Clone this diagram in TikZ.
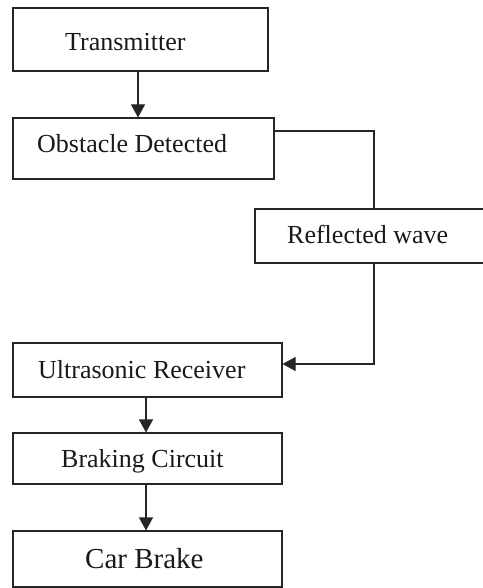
\documentclass[tikz,border=0pt]{standalone}
\usepackage{fontspec}
\setmainfont{Liberation Serif}
\usetikzlibrary{arrows.meta}
\tikzset{
  box/.style={draw=black!85, line width=1.1pt, rectangle, inner sep=0pt, fill=none},
  lbl/.style={inner sep=0pt, anchor=base west, font=\fontsize{26}{30}\selectfont, text=black!90},
  bigl/.style={lbl, font=\fontsize{29}{33}\selectfont},
  conn/.style={draw=black!85, line width=1.1pt},
  arr/.style={conn, -{Triangle[length=13pt,width=14pt]}}
}
\begin{document}
\begin{tikzpicture}[x=1pt,y=-1pt]
\useasboundingbox (0,0) rectangle (482,588);
% boxes
\node[box, minimum width=255pt, minimum height=63pt] (tx) at (140.5,39.5) {};
\node[box, minimum width=261pt, minimum height=61pt] (ob) at (143.5,148.5) {};
\node[box, minimum width=232pt, minimum height=54pt] (rw) at (371,236) {};
\node[box, minimum width=269pt, minimum height=54pt] (ur) at (147.5,370) {};
\node[box, minimum width=269pt, minimum height=51pt] (br) at (147.5,458.5) {};
\node[box, minimum width=269pt, minimum height=56pt] (cb) at (147.5,559) {};
% texts
\node[lbl] (ttx) at (65,51) {Transmitter};
\node[lbl] (tob) at (37,153) {Obstacle Detected};
\node[lbl] (trw) at (287,243) {Reflected wave};
\node[lbl] (tur) at (38,378) {Ultrasonic Receiver};
\node[lbl] (tbr) at (61,467) {Braking Circuit};
\node[bigl] (tcb) at (85,568) {Car Brake};
% connectors
\draw[arr] ([xshift=-2.5pt]tx.south) -- ([xshift=-2.5pt]tx.south |- ob.north);
\draw[conn] ([yshift=17.5pt]ob.east) -| ([xshift=3pt]rw.north);
\draw[arr] ([xshift=3pt]rw.south) |- ([yshift=6pt]ur.east);
\draw[arr] ([xshift=-1.5pt]ur.south) -- ([xshift=-1.5pt]ur.south |- br.north);
\draw[arr] ([xshift=-1.5pt]br.south) -- ([xshift=-1.5pt]br.south |- cb.north);
\end{tikzpicture}
\end{document}
